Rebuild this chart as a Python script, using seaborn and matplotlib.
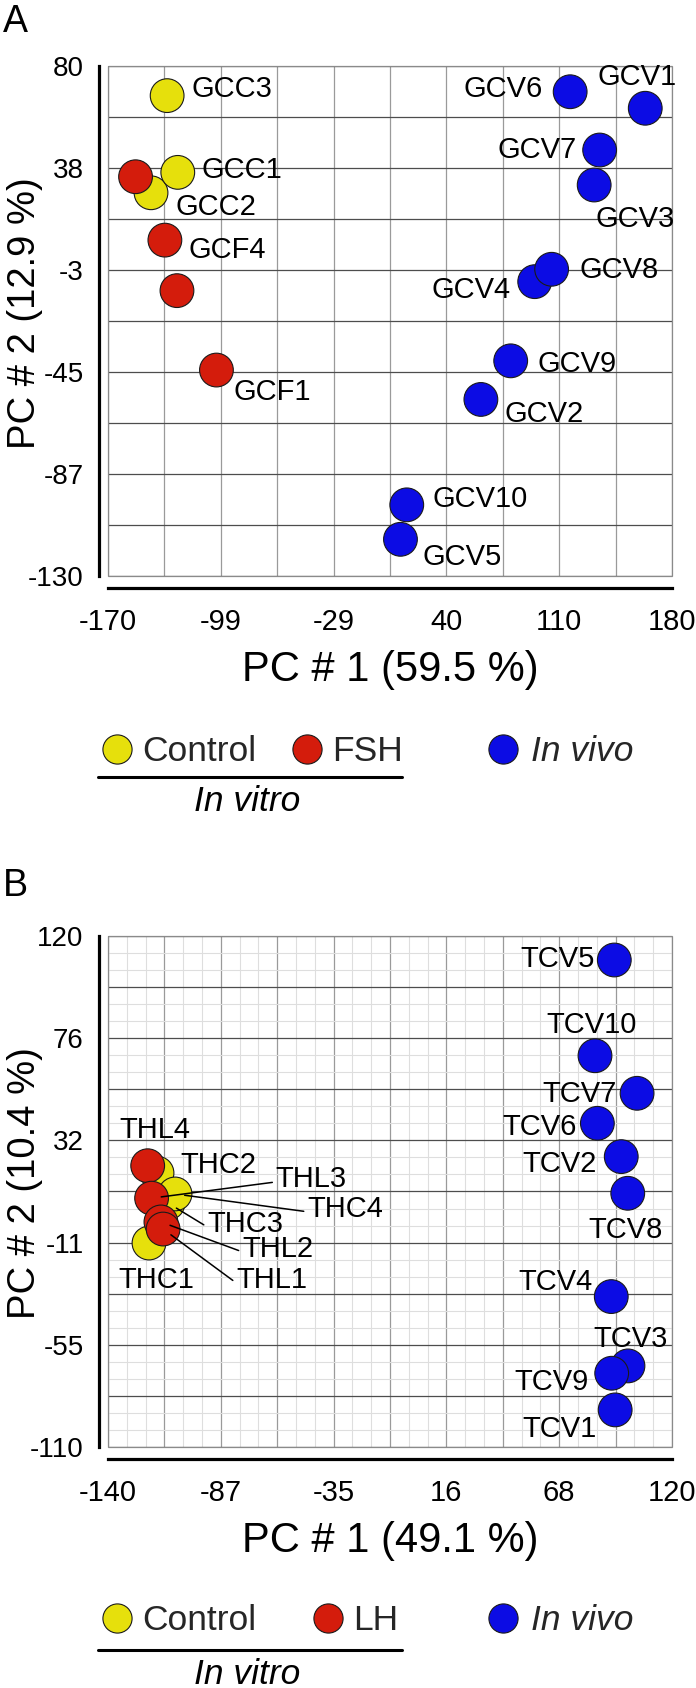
import numpy as np
import pandas as pd
import matplotlib
matplotlib.use("Agg")
import matplotlib.pyplot as plt
from matplotlib.lines import Line2D
from matplotlib.patches import Rectangle
import seaborn as sns

# ---- panel A: granulosa cells (drawing order = data order) ----
a_names = ["GCC2", "GCC1", "GCC3",
           "GCF2", "GCF4", "GCF3", "GCF1",
           "GCV6", "GCV1", "GCV7", "GCV3", "GCV4", "GCV8",
           "GCV9", "GCV2", "GCV10", "GCV5"]
a_group = ["Control"] * 3 + ["Treated"] * 4 + ["In vivo"] * 10
a_pc1 = [-143.3, -126.7, -133.3,
         -152.9, -134.7, -127.2, -102.7,
         116.8, 163.4, 135.1, 131.7, 94.8, 105.3,
         79.9, 61.4, 15.4, 11.5]
a_pc2 = [27.8, 36.2, 67.8,
         34.4, 8.3, -12.5, -45.2,
         69.4, 62.6, 45.4, 31.0, -8.8, -3.7,
         -41.4, -57.3, -100.7, -114.9]
a_xlim = (-170, 180)
a_ylim = (-130, 80)
a_xticklabels = ["-170", "-99", "-29", "40", "110", "180"]
a_yticklabels = ["-130", "-87", "-45", "-3", "38", "80"]

# ---- panel B: theca cells ----
b_names = ["THC2", "THC3", "THC4", "THC1",
           "THL4", "THL3", "THL2", "THL1",
           "TCV5", "TCV10", "TCV7", "TCV6", "TCV2", "TCV8",
           "TCV4", "TCV3", "TCV9", "TCV1"]
b_group = ["Control"] * 4 + ["Treated"] * 4 + ["In vivo"] * 10
b_pc1 = [-117.4, -112.3, -109.1, -121.1,
         -121.7, -119.9, -115.6, -114.6,
         93.4, 84.5, 103.9, 85.6, 96.6, 99.6,
         92.0, 99.7, 92.2, 93.8]
b_pc2 = [13.3, -0.2, 3.9, -18.2,
         16.6, 2.0, -8.7, -11.9,
         109.2, 66.1, 49.2, 35.7, 20.7, 4.2,
         -42.3, -73.5, -76.8, -93.3]
b_xlim = (-140, 120)
b_ylim = (-110, 120)
b_xticklabels = ["-140", "-87", "-35", "16", "68", "120"]
b_yticklabels = ["-110", "-55", "-11", "32", "76", "120"]

palette = {"Control": "#e6e00c", "Treated": "#d41c0c", "In vivo": "#0c0ce4"}

# label placement: name -> (dx px, dy px, ha, leader)
a_labels = {
    "GCC3": (24, -1, "left", False), "GCC1": (24, -6, "left", False),
    "GCC2": (24, -22, "left", False), "GCF4": (24, -18, "left", False),
    "GCF1": (17, -30, "left", False), "GCV6": (-27, -5, "right", False),
    "GCV1": (-48, 23, "left", False), "GCV7": (-23, -8, "right", False),
    "GCV3": (1, -42, "left", False), "GCV8": (28, -9, "left", False),
    "GCV4": (-24, -16, "right", False), "GCV9": (27, -11, "left", False),
    "GCV2": (24, -23, "left", False), "GCV10": (26, -2, "left", False),
    "GCV5": (22, -26, "left", False),
}
b_labels = {
    "TCV5": (-20, -7, "right", False), "TCV10": (-3, 23, "center", False),
    "TCV7": (-20, -9, "right", False), "TCV6": (-21, -12, "right", False),
    "TCV2": (-24, -15, "right", False), "TCV8": (-2, -45, "center", False),
    "TCV4": (-19, 7, "right", False), "TCV3": (3, 19, "center", False),
    "TCV9": (-23, -17, "right", False), "TCV1": (-19, -27, "right", False),
    "THL4": (-28, 28, "left", False), "THC2": (23, 0, "left", False),
    "THL3": (124, 11, "left", True), "THC4": (132, -23, "left", True),
    "THC3": (39, -29, "left", True), "THL2": (81, -35, "left", True),
    "THL1": (73, -59, "left", True), "THC1": (-31, -45, "left", False),
}

W, H = 696, 1688
sns.set_theme(style="white")
plt.rcParams["font.family"] = ["Liberation Sans", "DejaVu Sans"]

fig = plt.figure(figsize=(W / 100, H / 100), dpi=100)


def px_axes(left, top, right, bottom):
    return fig.add_axes([left / W, 1 - bottom / H, (right - left) / W, (bottom - top) / H])


def draw_panel(ax, names, group, pc1, pc2, xlim, ylim, xlabs, ylabs, labels,
               xlabel, ylabel, minor):
    df = pd.DataFrame({"name": names, "group": group, "pc1": pc1, "pc2": pc2})
    sns.scatterplot(data=df, x="pc1", y="pc2", hue="group", palette=palette,
                    s=590, edgecolor="#1a1a1a", linewidth=0.8, legend=False,
                    ax=ax, zorder=3, clip_on=False)
    ax.set_xlim(*xlim)
    ax.set_ylim(*ylim)
    xt = np.linspace(xlim[0], xlim[1], 11)
    yt = np.linspace(ylim[0], ylim[1], 11)
    ax.set_xticks(xt)
    ax.set_yticks(yt)
    ax.set_xticklabels([xlabs[i // 2] if i % 2 == 0 else "" for i in range(11)])
    ax.set_yticklabels([ylabs[i // 2] if i % 2 == 0 else "" for i in range(11)])
    ax.xaxis.grid(True, color="#9a9a9a", lw=0.9, zorder=1)
    ax.yaxis.grid(True, color="#4d4d4d", lw=0.9, zorder=1)
    if minor:
        ax.set_xticks(np.linspace(xlim[0], xlim[1], 31), minor=True)
        ax.set_yticks(np.linspace(ylim[0], ylim[1], 31), minor=True)
        ax.xaxis.grid(True, which="minor", color="#dedede", lw=0.8)
        ax.yaxis.grid(True, which="minor", color="#dedede", lw=0.8)
        ax.tick_params(which="minor", length=0)
    ax.set_axisbelow(True)
    for side in ["top", "right"]:
        ax.spines[side].set_visible(False)
    ax.spines["left"].set_position(("outward", 6.5))
    ax.spines["bottom"].set_position(("outward", 8.6))
    for side in ["left", "bottom"]:
        ax.spines[side].set_linewidth(2.3)
        ax.spines[side].set_color("black")
    ax.add_patch(Rectangle((0, 0), 1, 1, transform=ax.transAxes, fill=False,
                           ec="#8a8a8a", lw=0.9, clip_on=False, zorder=2))
    ax.tick_params(axis="both", which="major", direction="out", length=8.6,
                   width=2.3, color="black", labelcolor="black")
    ax.tick_params(axis="x", which="major", pad=6, labelsize=21)
    ax.tick_params(axis="y", which="major", pad=2.5, labelsize=20)
    ax.set_xlabel(xlabel, fontsize=30, color="black")
    ax.set_ylabel(ylabel, fontsize=27.5, color="black")
    ax.xaxis.set_label_coords(0.5, -0.145)
    ax.yaxis.set_label_coords(-0.1152, 0.516)

    for _, r in df.iterrows():
        if r["name"] not in labels:
            continue
        dx, dy, ha, leader = labels[r["name"]]
        kw = {}
        if leader:
            kw["arrowprops"] = dict(arrowstyle="-", color="black", lw=1.1,
                                    shrinkA=0, shrinkB=7, relpos=(0, 0.4))
        ax.annotate(r["name"], xy=(r["pc1"], r["pc2"]), xytext=(dx, dy),
                    textcoords="offset pixels", ha=ha, va="baseline",
                    fontsize=21, color="black", zorder=5,
                    annotation_clip=False, **kw)


def draw_legend(yc, treat, colspace, line_y):
    fs = 25.5
    hnd = [Line2D([], [], ls="", marker="o", ms=21, mfc=palette[g],
                  mec="#1a1a1a", mew=0.8) for g in ["Control", "Treated", "In vivo"]]
    fig.legend(hnd[:2], ["Control", treat], loc="center left",
               bbox_to_anchor=(103 / W, 1 - yc / H), ncol=2, frameon=False,
               fontsize=fs, handlelength=0.8, handletextpad=0.3,
               columnspacing=colspace, borderpad=0, borderaxespad=0)
    fig.legend(hnd[2:], ["In vivo"], loc="center left",
               bbox_to_anchor=(489 / W, 1 - yc / H), frameon=False,
               prop={"size": fs, "style": "italic"}, handlelength=0.8,
               handletextpad=0.39, borderpad=0, borderaxespad=0)
    fig.add_artist(Line2D([98 / W, 402 / W], [1 - line_y / H] * 2,
                          transform=fig.transFigure, color="black", lw=2.2))
    fig.text(247 / W, 1 - (line_y + 34) / H, "In vitro", ha="center",
             va="baseline", fontsize=fs, style="italic", color="black")


ax_a = px_axes(108, 66, 672, 576)
draw_panel(ax_a, a_names, a_group, a_pc1, a_pc2, a_xlim, a_ylim,
           a_xticklabels, a_yticklabels, a_labels,
           "PC # 1 (59.5 %)", "PC # 2 (12.9 %)", minor=False)
ax_b = px_axes(108, 936, 672, 1447)
draw_panel(ax_b, b_names, b_group, b_pc1, b_pc2, b_xlim, b_ylim,
           b_xticklabels, b_yticklabels, b_labels,
           "PC # 1 (49.1 %)", "PC # 2 (10.4 %)", minor=True)

draw_legend(752, "FSH", 1.05, 777)
draw_legend(1621, "LH", 1.64, 1650)

fig.text(3 / W, 1 - 32 / H, "A", fontsize=27, va="baseline", color="black")
fig.text(3 / W, 1 - 896 / H, "B", fontsize=27, va="baseline", color="black")

fig.savefig("out.png", dpi=100)
